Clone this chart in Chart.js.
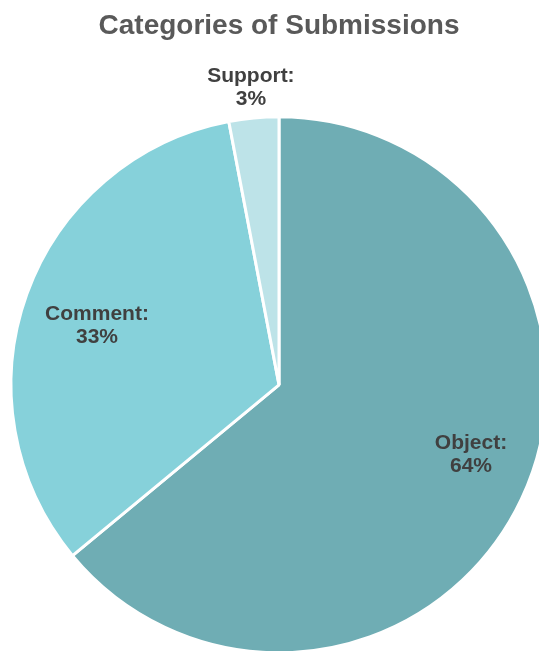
<!DOCTYPE html>
<html>
<head>
<meta charset="utf-8">
<script src="https://cdn.jsdelivr.net/npm/chart.js@4/dist/chart.umd.min.js"></script>
<style>
  html, body { margin: 0; padding: 0; background: #fff; overflow: hidden; }
  #wrap { width: 539px; height: 651px; position: relative; }
</style>
</head>
<body>
<div id="wrap"><canvas id="pie" width="539" height="651"></canvas></div>
<script>
// data
const CATEGORIES = ["Object", "Comment", "Support"];
const SHARES = [64, 33, 3];   // percent

// slice colours
const COLORS = ["#6fadb4", "#86d1da", "#bde3e8"];

// label placement: fraction of radius and angle nudge (degrees), per slice
const LABEL_RADIUS = [0.762, 0.714, 1.115];
const LABEL_NUDGE = [-5.3, -1.8, 0];

// draws "Name:\nNN%" on each slice
const sliceLabels = {
    id: "sliceLabels",
    afterDatasetsDraw(chart) {
        const ctx = chart.ctx;
        const meta = chart.getDatasetMeta(0);
        ctx.save();
        ctx.font = "bold 21px 'Liberation Sans', Arial, sans-serif";
        ctx.fillStyle = "#404040";
        ctx.textAlign = "center";
        ctx.textBaseline = "middle";
        meta.data.forEach((arc, i) => {
            const p = arc.getProps(["x", "y", "startAngle", "endAngle", "outerRadius"], true);
            const mid = (p.startAngle + p.endAngle) / 2 + LABEL_NUDGE[i] * Math.PI / 180;
            const r = p.outerRadius * LABEL_RADIUS[i];
            const cx = p.x + Math.cos(mid) * r;
            const cy = p.y + Math.sin(mid) * r;
            ctx.fillText(CATEGORIES[i] + ":", cx, cy - 11.5);
            ctx.fillText(SHARES[i] + "%", cx, cy + 11.5);
        });
        ctx.restore();
    },
};

new Chart(document.getElementById("pie").getContext("2d"), {
    type: "pie",
    data: {
        labels: CATEGORIES,
        datasets: [{
            data: SHARES,
            backgroundColor: COLORS,
            borderColor: "#ffffff",
            borderWidth: 3,
        }],
    },
    options: {
        responsive: false,
        animation: false,
        radius: 268,
        layout: { padding: { left: 19, right: 0, top: 0, bottom: 0 } },
        plugins: {
            legend: { display: false },
            tooltip: { enabled: false },
            title: {
                display: true,
                text: "Categories of Submissions",
                color: "#595959",
                font: { family: "'Liberation Sans', Arial, sans-serif", size: 28, weight: "bold" },
                padding: { top: 9, bottom: 76 },
            },
        },
    },
    plugins: [sliceLabels],
});
</script>
</body>
</html>
